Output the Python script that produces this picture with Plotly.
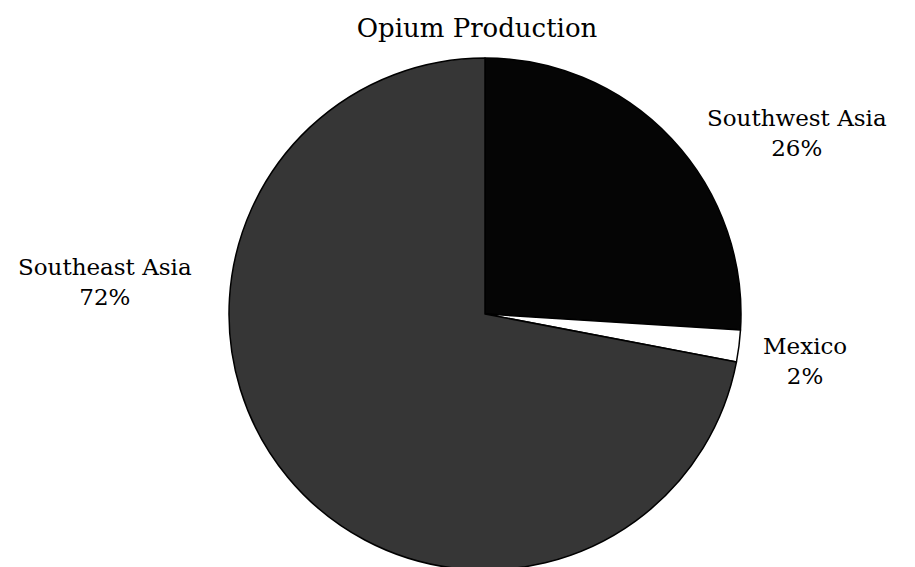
import plotly.graph_objects as go

# Data
labels = ["Southwest Asia", "Mexico", "Southeast Asia"]
values = [26, 2, 72]
colors = ["#050505", "#ffffff", "#363636"]
title_text = "Opium Production"

# label placement (paper coords)
label_pos = {
    "Southwest Asia": (0.8623, 0.7787),
    "Mexico": (0.871, 0.3783),
    "Southeast Asia": (0.106, 0.5176),
}

W, H = 915, 567
cx, cy, r = 477, 306, 256

fig = go.Figure()
fig.add_trace(go.Pie(
    labels=labels,
    values=values,
    sort=False,
    direction="clockwise",
    rotation=0,
    textinfo="none",
    hoverinfo="label+percent",
    marker=dict(colors=colors, line=dict(color="#000000", width=1.5)),
    showlegend=False,
    domain=dict(x=[(cx - r) / W, (cx + r) / W],
                y=[(H - cy - r) / H, (H - cy + r) / H]),
))

font_family = "DejaVu Serif"
for lab, val in zip(labels, values):
    x, y = label_pos[lab]
    fig.add_annotation(
        x=x, y=y, xref="paper", yref="paper",
        text=f"{lab}<br>{val}%",
        showarrow=False, xanchor="center", yanchor="middle",
        font=dict(family=font_family, size=23, color="#000000"),
    )

fig.update_layout(
    width=W, height=H,
    margin=dict(l=0, r=0, t=0, b=0),
    paper_bgcolor="#ffffff",
    plot_bgcolor="#ffffff",
    title=dict(text=title_text, x=0.5126, y=0.9647, xanchor="center", yanchor="middle",
               font=dict(family=font_family, size=26, color="#000000")),
)

fig.write_html("out.html")
